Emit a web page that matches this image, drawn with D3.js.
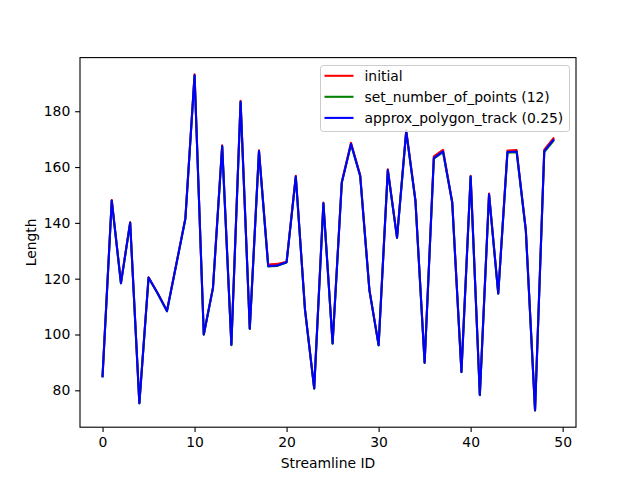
<!DOCTYPE html>
<html>
<head>
<meta charset="utf-8">
<script src="https://cdn.jsdelivr.net/npm/d3@7"></script>
<style>
  html, body { margin: 0; padding: 0; background: #fff; }
  svg { display: block; font-family: "DejaVu Sans", sans-serif; }
</style>
</head>
<body>
<svg id="chart" width="640" height="480"></svg>
<script>
const streamlineIds = d3.range(50);
const initialLengths = [85.2, 148.2, 118.5, 140.2, 75.5, 120.5, 114.8, 108.5, 125.0, 141.6,
  193.2, 100.1, 116.8, 167.8, 96.4, 183.7, 102.2, 166.0, 125.1, 125.3,
  126.1, 156.9, 109.0, 80.8, 147.3, 96.9, 154.7, 168.7, 157.1, 116.0,
  96.3, 159.2, 134.8, 173.2, 148.2, 90.0, 163.8, 166.2, 147.5, 86.7,
  156.9, 78.4, 150.5, 114.8, 165.9, 166.1, 137.4, 72.8, 166.2, 170.3];
const setNumberOfPointsLengths = [85.0, 147.9, 118.3, 140.0, 75.3, 120.3, 114.6, 108.3, 124.8, 141.4,
  192.8, 99.9, 116.6, 167.4, 96.2, 183.3, 102.0, 165.6, 124.4, 124.6,
  125.8, 156.5, 108.8, 80.6, 146.9, 96.7, 154.4, 168.2, 156.7, 115.8,
  96.1, 158.8, 134.6, 172.7, 147.9, 89.8, 163.0, 165.3, 147.2, 86.5,
  156.5, 78.2, 150.1, 114.6, 165.1, 165.3, 137.1, 72.8, 165.4, 169.4];
const approxPolygonTrackLengths = [85.0, 148.0, 118.4, 140.1, 75.4, 120.4, 114.7, 108.4, 124.9, 141.5,
  192.9, 100.0, 116.7, 167.5, 96.3, 183.4, 102.1, 165.7, 124.5, 124.7,
  125.9, 156.6, 108.9, 80.7, 147.0, 96.8, 154.5, 168.3, 156.8, 115.9,
  96.2, 158.9, 134.7, 172.8, 148.0, 89.9, 163.2, 165.6, 147.3, 86.6,
  156.6, 78.3, 150.2, 114.7, 165.4, 165.6, 137.2, 72.9, 165.7, 169.7];
const seriesNames = ["initial", "set_number_of_points (12)", "approx_polygon_track (0.25)"];
const seriesColors = ["#ff0000", "#008000", "#0000ff"];
const xTicks = [0, 10, 20, 30, 40, 50];
const yTicks = [80, 100, 120, 140, 160, 180];

const allSeries = [initialLengths, setNumberOfPointsLengths, approxPolygonTrackLengths];

const mLeft = 80, mRight = 576, mTop = 57.6, mBottom = 427.2;
const svg = d3.select("#chart");

const xMin = 0, xMax = 49, xPad = (xMax - xMin) * 0.05;
const allVals = allSeries.flat();
const yMinD = d3.min(allVals), yMaxD = d3.max(allVals), yPad = (yMaxD - yMinD) * 0.05;

const x = d3.scaleLinear().domain([xMin - xPad, xMax + xPad]).range([mLeft, mRight]);
const y = d3.scaleLinear().domain([yMinD - yPad, yMaxD + yPad]).range([mBottom, mTop]);

const fs = 13.9;
const tickLen = 4.86;

// Lines
const line = d3.line().x((d, i) => x(streamlineIds[i])).y(d => y(d));
const plot = svg.append("g");
allSeries.forEach((s, k) => {
  plot.append("path").datum(s)
    .attr("d", line)
    .attr("fill", "none")
    .attr("stroke", seriesColors[k])
    .attr("stroke-width", 2.08)
    .attr("stroke-linejoin", "round")
    .attr("stroke-linecap", "square");
});

// Axes
const xAxis = d3.axisBottom(x).tickValues(xTicks).tickSize(tickLen).tickPadding(4.86).tickFormat(d3.format("d"));
const yAxis = d3.axisLeft(y).tickValues(yTicks).tickSize(tickLen).tickPadding(4.86).tickFormat(d3.format("d"));

const gx = svg.append("g").attr("transform", `translate(0,${mBottom})`).call(xAxis);
const gy = svg.append("g").attr("transform", `translate(${mLeft},0)`).call(yAxis);
[gx, gy].forEach(g => {
  g.select(".domain").remove();
  g.selectAll(".tick line").attr("stroke", "#000").attr("stroke-width", 1.1);
  g.selectAll(".tick text").attr("fill", "#000").style("font-size", fs + "px").style("font-family", "DejaVu Sans");
});
gx.selectAll(".tick text").attr("dy", "0.75em");

// Frame
svg.append("rect")
  .attr("x", mLeft).attr("y", mTop)
  .attr("width", mRight - mLeft).attr("height", mBottom - mTop)
  .attr("fill", "none").attr("stroke", "#000").attr("stroke-width", 1.1);

// Axis labels
svg.append("text")
  .attr("x", (mLeft + mRight) / 2).attr("y", 468)
  .attr("text-anchor", "middle")
  .style("font-size", fs + "px")
  .text("Streamline ID");
svg.append("text")
  .attr("transform", `translate(36,${(mTop + mBottom) / 2}) rotate(-90)`)
  .attr("text-anchor", "middle")
  .style("font-size", fs + "px")
  .text("Length");

// Legend
const lg = svg.append("g");
lg.append("rect")
  .attr("x", 320.5).attr("y", 65.5)
  .attr("width", 249).attr("height", 66)
  .attr("rx", 2.8).attr("ry", 2.8)
  .attr("fill", "#fff").attr("fill-opacity", 0.8)
  .attr("stroke", "#cccccc").attr("stroke-width", 1);
const rowY = [75.8, 96.8, 117.9];
seriesNames.forEach((name, k) => {
  lg.append("line")
    .attr("x1", 324.5).attr("x2", 353.5)
    .attr("y1", rowY[k]).attr("y2", rowY[k])
    .attr("stroke", seriesColors[k]).attr("stroke-width", 2.08);
  lg.append("text")
    .attr("x", 364.5).attr("y", rowY[k])
    .attr("dy", "0.36em")
    .style("font-size", fs + "px")
    .text(name);
});
</script>
</body>
</html>
